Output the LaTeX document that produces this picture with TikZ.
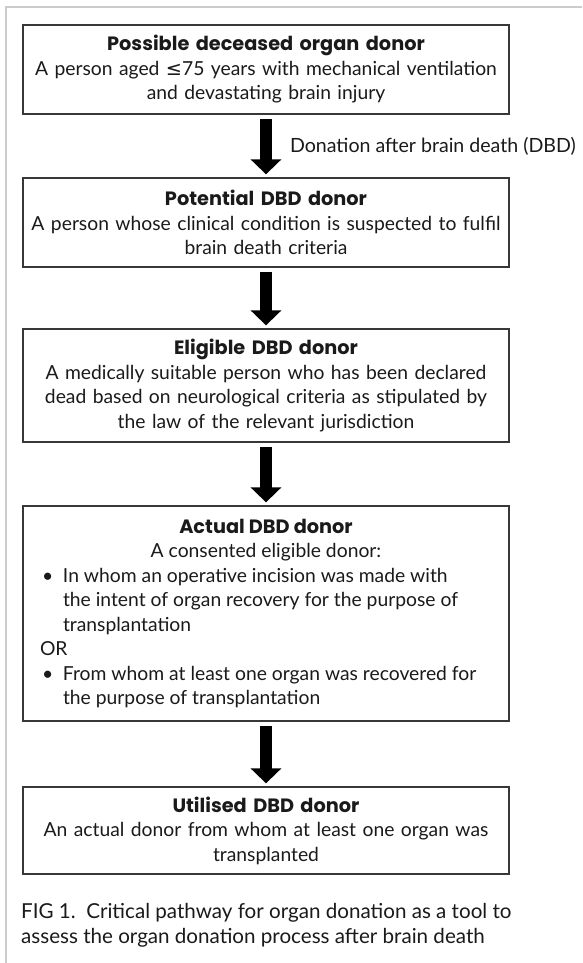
\documentclass[tikz,border=0pt]{standalone}
\usepackage{fontspec}
\setmainfont{Lato}
\newfontfamily\symfont{DejaVu Sans}
\newfontfamily\titlefont{Poppins}
\usetikzlibrary{arrows.meta}
\definecolor{frame}{HTML}{CCCCCC}
\definecolor{boxline}{HTML}{383838}
\definecolor{ink}{HTML}{1A1A1A}
\newcommand\bulitem[1]{\hangindent=23pt\hangafter=1\noindent\makebox[23pt][l]{\hspace{2pt}•}#1\par}
\newcommand\ttl[1]{{\titlefont\bfseries\fontsize{19.3}{24.5}\selectfont #1}}
\tikzset{
  box/.style={draw=boxline, line width=1.3pt, minimum width=486pt, inner sep=0pt, text=ink,
    font=\fontsize{19.3}{24.5}\selectfont},
  boxtxt/.style={box, text width=470pt, align=center},
  fatarrow/.style={draw=black, line width=12pt, -{Triangle[length=15pt,width=30pt]},
    shorten <=4pt, shorten >=3pt},
  lbl/.style={inner sep=0pt, text=ink, font=\fontsize{19.6}{25}\selectfont}
}
\begin{document}
\begin{tikzpicture}[x=1pt,y=-1pt]
\useasboundingbox (0,0) rectangle (582,963);
\fill[white] (0,0) rectangle (582,963);
\draw[frame, line width=1.3pt] (6,963) -- (6,7) -- (582,7);

\node[boxtxt, minimum height=89pt] (b1) at (266,69.5)
  {\ttl{Possible deceased organ donor}\\A person aged {\symfont ≤}75 years with mechanical ventilation\\and devastating brain injury};
\node[boxtxt, minimum height=89pt] (b2) at (266,222.5)
  {\ttl{Potential DBD donor}\\A person whose clinical condition is suspected to fulfil\\brain death criteria};
\node[boxtxt, minimum height=113pt] (b3) at (266,385.5)
  {\ttl{Eligible DBD donor}\\A medically suitable person who has been declared\\dead based on neurological criteria as stipulated by\\the law of the relevant jurisdiction};
\node[box, minimum height=215pt] (b4) at (266,613.5)
  {\parbox{452pt}{\centering\ttl{Actual DBD donor}\par A consented eligible donor:\par
   \raggedright
   \bulitem{In whom an operative incision was made with\hfil\break the intent of organ recovery for the purpose of\hfil\break transplantation}
   \noindent OR\par
   \bulitem{From whom at least one organ was recovered for\hfil\break the purpose of transplantation}}};
\node[boxtxt, minimum height=87pt] (b5) at (266,830.5)
  {\ttl{Utilised DBD donor}\\An actual donor from whom at least one organ was\\transplanted};

\draw[fatarrow] (b1.south) -- (b2.north)
  node[lbl, midway, anchor=west, xshift=18pt] (l1) {Donation after brain death (DBD)};
\draw[fatarrow] (b2.south) -- (b3.north);
\draw[fatarrow] (b3.south) -- (b4.north);
\draw[fatarrow] (b4.south) -- (b5.north);

\node[lbl, anchor=north west, align=left, font=\fontsize{20.6}{25}\selectfont] (cap) at (21,903)
  {FIG 1.\ \ Critical pathway for organ donation as a tool to\\assess the organ donation process after brain death};
\end{tikzpicture}
\end{document}
